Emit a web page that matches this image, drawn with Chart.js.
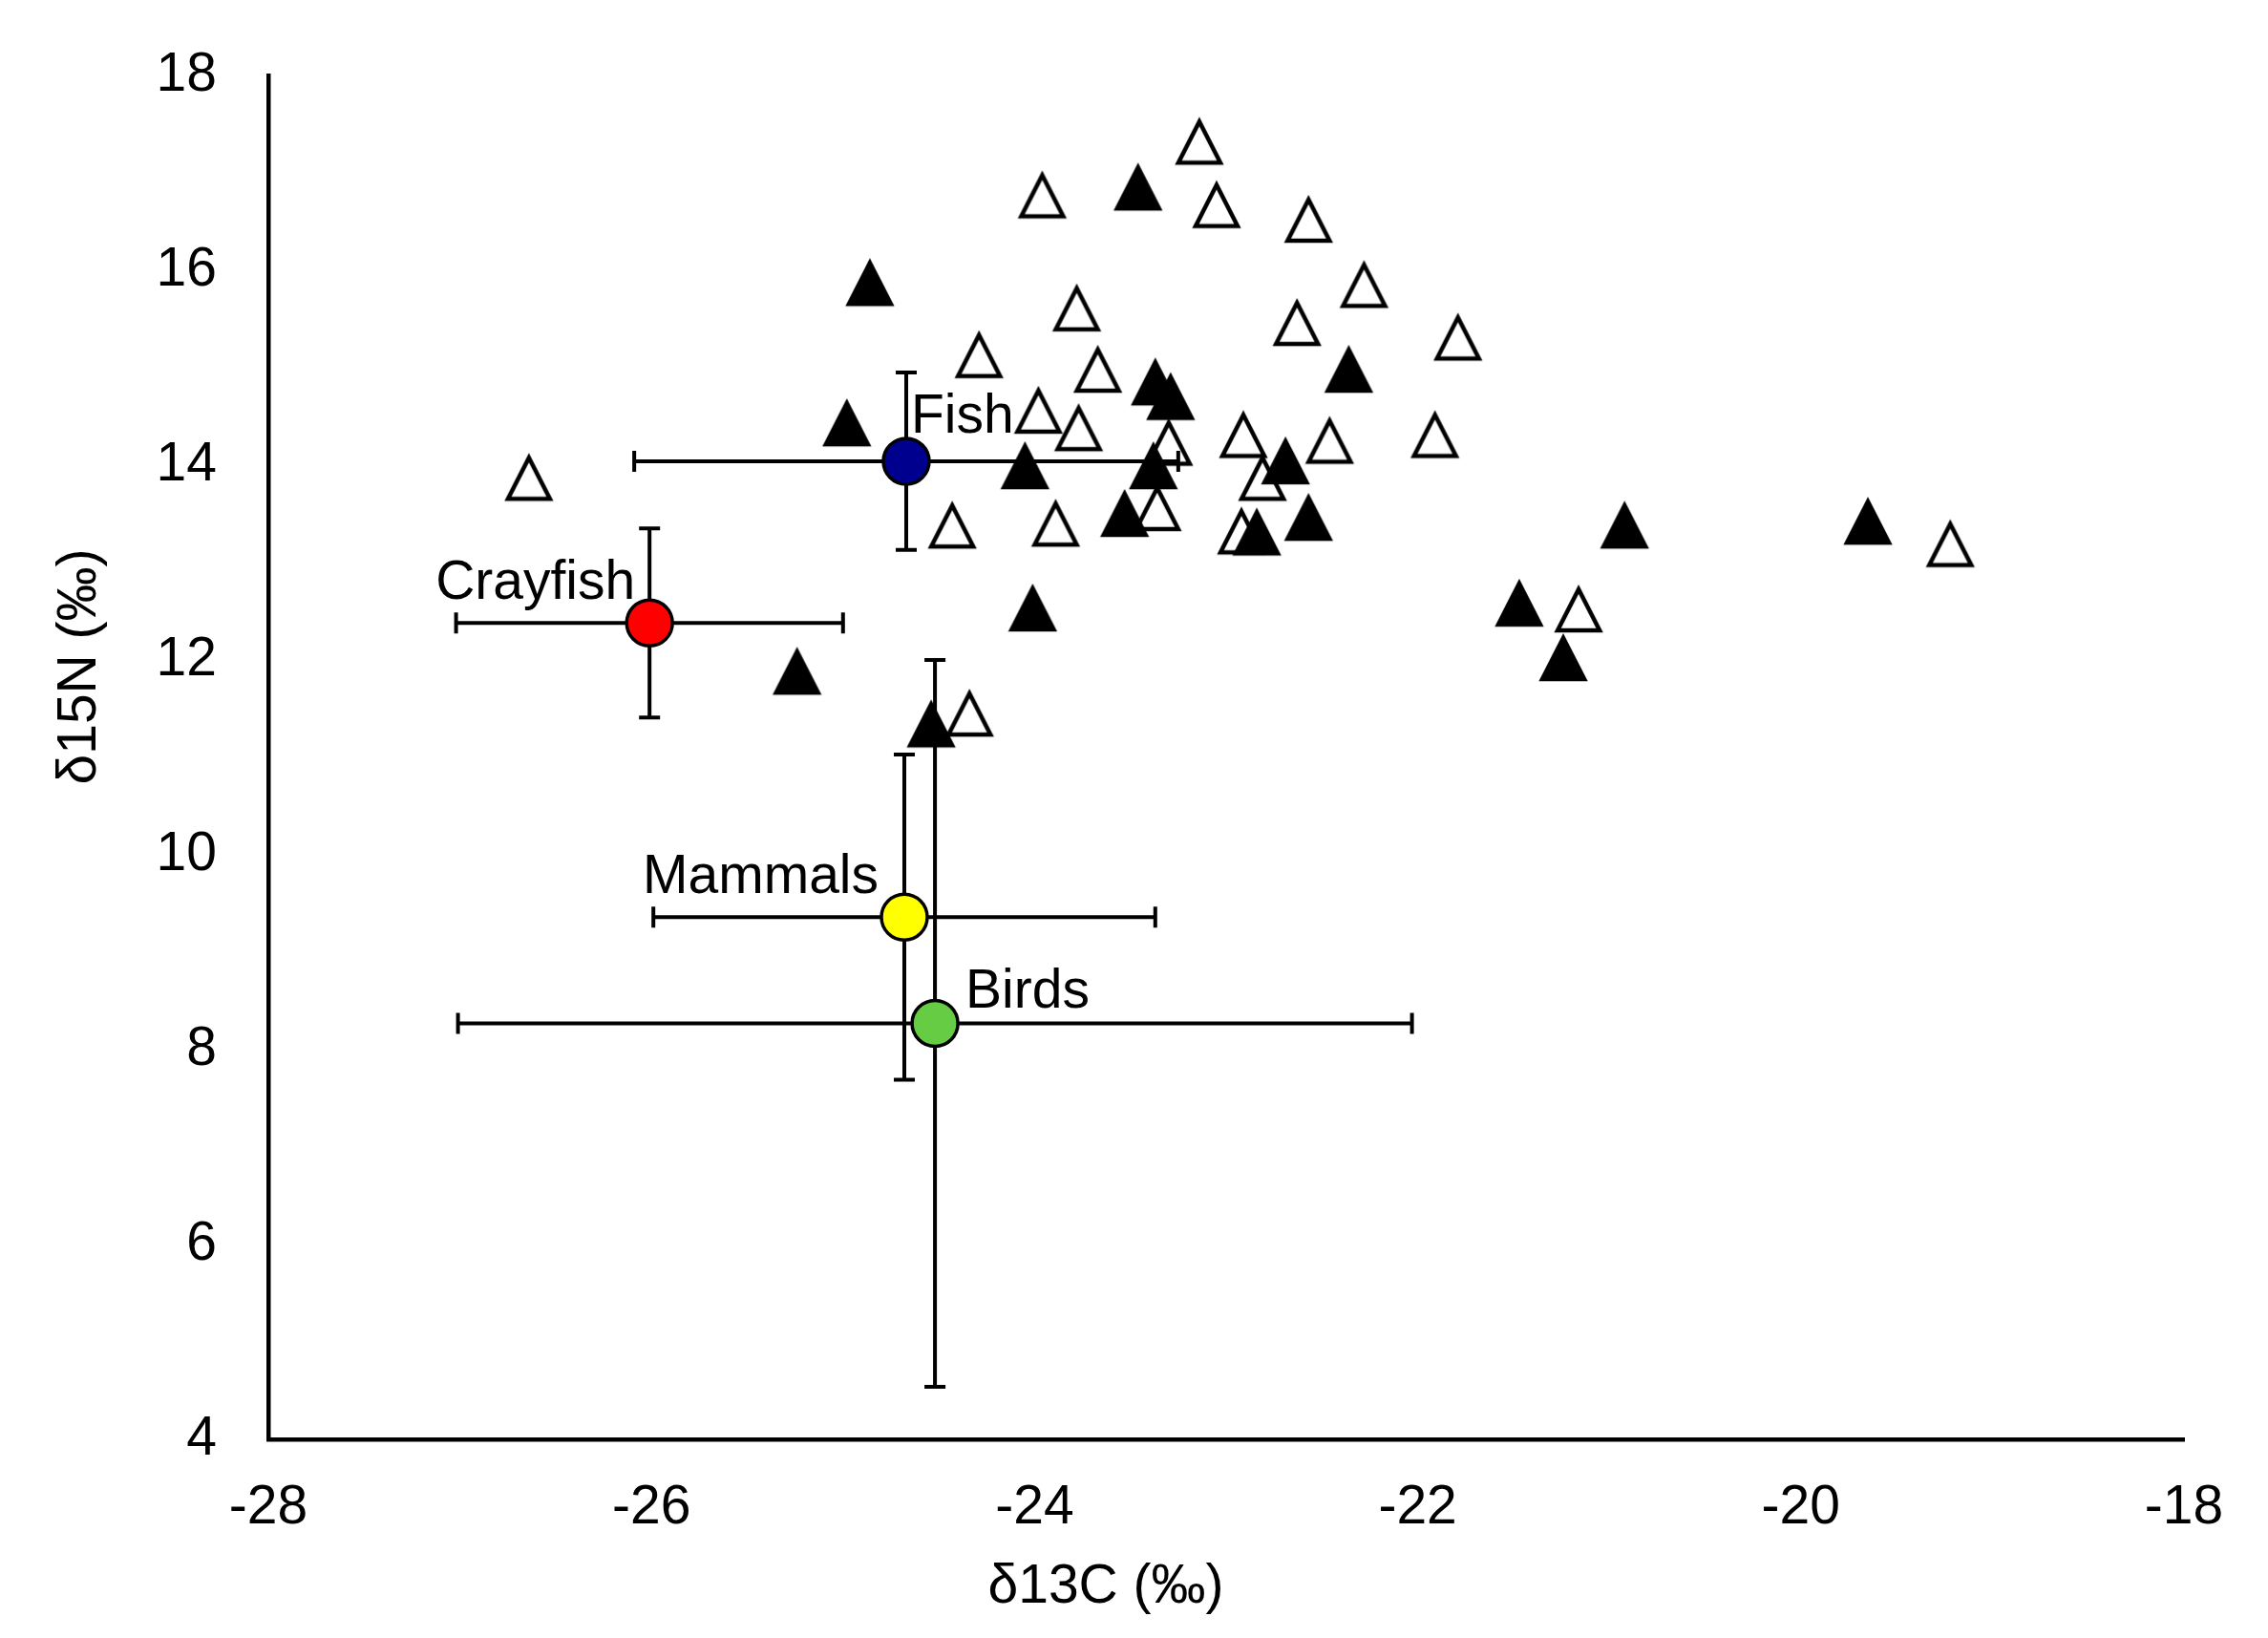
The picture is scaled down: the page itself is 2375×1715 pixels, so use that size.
<!DOCTYPE html>
<html>
<head>
<meta charset="utf-8">
<script src="https://cdn.jsdelivr.net/npm/chart.js@4.4.1/dist/chart.umd.min.js"></script>
<style>
html, body { margin: 0; padding: 0; background: #fff; }
</style>
</head>
<body>
<canvas id="isoChart" width="2375" height="1715"></canvas>
<script>
// open triangles (delta13C, delta15N)
const openC = [-26.64, -23.96, -23.14, -23.05, -22.57, -22.28, -23.78, -22.63, -21.79, -24.29,
               -23.67, -23.98, -23.77, -23.30, -22.91, -22.46, -21.91, -22.81, -23.36, -24.43,
               -23.89, -22.92, -19.22, -21.16, -24.34];
const openN = [13.87, 16.77, 17.32, 16.67, 16.52, 15.85, 15.61, 15.46, 15.31, 15.13,
               14.98, 14.56, 14.38, 14.23, 14.31, 14.25, 14.31, 13.87, 13.56, 13.38,
               13.40, 13.32, 13.19, 12.52, 11.45];

// filled triangles
const filledC = [-23.46, -24.86, -22.36, -23.37, -23.29, -24.98, -24.05, -23.38, -22.69, -23.53,
                 -22.84, -22.57, -20.92, -19.65, -24.01, -21.47, -21.24, -25.24, -24.54];
const filledN = [16.85, 15.87, 14.98, 14.85, 14.70, 14.43, 13.99, 13.99, 14.04, 13.50,
                 13.31, 13.46, 13.38, 13.42, 12.53, 12.58, 12.02, 11.88, 11.34];

// group means with error bars
const meanNames = ['Fish', 'Crayfish', 'Mammals', 'Birds'];
const meanC = [-24.67, -26.01, -24.68, -24.52];
const meanN = [14.04, 12.38, 9.36, 8.27];
const meanCErr = [1.42, 1.01, 1.31, 2.49];
const meanNErr = [0.91, 0.97, 1.67, 3.73];
const meanColors = ['#00008f', '#ff0000', '#ffff00', '#66cc44'];

const xTicks = [-28, -26, -24, -22, -20, -18];
const yTicks = [4, 6, 8, 10, 12, 14, 16, 18];
const xTitle = 'δ13C (‰)';
const yTitle = 'δ15N (‰)';

const FONT = '"Liberation Sans", Arial, sans-serif';

function triangleCanvas(filled) {
    const c = document.createElement('canvas');
    c.width = 54;
    c.height = 54;
    const g = c.getContext('2d');
    g.beginPath();
    g.moveTo(27, 6);
    g.lineTo(49, 49);
    g.lineTo(5, 49);
    g.closePath();
    g.fillStyle = filled ? '#000' : '#fff';
    g.fill();
    g.lineWidth = 4.5;
    g.strokeStyle = '#000';
    g.stroke();
    return c;
}
const openTri = triangleCanvas(false);
const filledTri = triangleCanvas(true);

const toPoints = (xs, ys) => xs.map((x, i) => ({ x: x, y: ys[i] }));

// label placement relative to each mean point
const labelPos = {
    Fish: { dx: 5, dy: -30, align: 'left' },
    Crayfish: { dx: -15, dy: -25, align: 'right' },
    Mammals: { dx: -27, dy: -25, align: 'right' },
    Birds: { dx: 32, dy: -16, align: 'left' }
};

const errorBars = {
    id: 'errorBars',
    beforeDatasetDraw(chart, args) {
        if (args.index !== 2) return;
        const ctx = chart.ctx;
        const xs = chart.scales.x;
        const ys = chart.scales.y;
        const cap = 11;
        ctx.save();
        ctx.strokeStyle = '#000';
        ctx.lineWidth = 4;
        meanC.forEach((c, i) => {
            const px = xs.getPixelForValue(c);
            const py = ys.getPixelForValue(meanN[i]);
            const x0 = xs.getPixelForValue(c - meanCErr[i]);
            const x1 = xs.getPixelForValue(c + meanCErr[i]);
            const y0 = ys.getPixelForValue(meanN[i] + meanNErr[i]);
            const y1 = ys.getPixelForValue(meanN[i] - meanNErr[i]);
            ctx.beginPath();
            ctx.moveTo(x0, py); ctx.lineTo(x1, py);
            ctx.moveTo(x0, py - cap); ctx.lineTo(x0, py + cap);
            ctx.moveTo(x1, py - cap); ctx.lineTo(x1, py + cap);
            ctx.moveTo(px, y0); ctx.lineTo(px, y1);
            ctx.moveTo(px - cap, y0); ctx.lineTo(px + cap, y0);
            ctx.moveTo(px - cap, y1); ctx.lineTo(px + cap, y1);
            ctx.stroke();
        });
        ctx.restore();
    }
};

const textLayer = {
    id: 'textLayer',
    afterDatasetsDraw(chart) {
        const ctx = chart.ctx;
        const xs = chart.scales.x;
        const ys = chart.scales.y;
        ctx.save();
        ctx.font = '57px ' + FONT;
        ctx.fillStyle = '#000';
        ctx.textBaseline = 'alphabetic';
        meanNames.forEach((name, i) => {
            const p = labelPos[name];
            ctx.textAlign = p.align;
            ctx.fillText(name, xs.getPixelForValue(meanC[i]) + p.dx, ys.getPixelForValue(meanN[i]) + p.dy);
        });
        // axis titles, offset like the original figure
        ctx.textAlign = 'center';
        ctx.fillText(xTitle, 1158, 1678);
        ctx.translate(100, 698);
        ctx.rotate(-Math.PI / 2);
        ctx.fillText(yTitle, 0, 0);
        ctx.restore();
    }
};

const ctx = document.getElementById('isoChart').getContext('2d');
const isoChart = new Chart(ctx, {
    type: 'scatter',
    data: {
        datasets: [{
            label: 'open',
            data: toPoints(openC, openN),
            pointStyle: openTri,
            pointRadius: 24,
            order: 3
        }, {
            label: 'filled',
            data: toPoints(filledC, filledN),
            pointStyle: filledTri,
            pointRadius: 24,
            order: 2
        }, {
            label: 'means',
            data: toPoints(meanC, meanN),
            pointStyle: 'circle',
            pointRadius: 24,
            backgroundColor: meanColors,
            borderColor: '#000',
            borderWidth: 3.5,
            order: 1
        }]
    },
    options: {
        responsive: false,
        devicePixelRatio: 1,
        animation: false,
        layout: { padding: { left: 0, right: 88, top: 79, bottom: 0 } },
        plugins: {
            legend: { display: false },
            tooltip: { enabled: false }
        },
        scales: {
            x: {
                type: 'linear',
                min: -28,
                max: -18,
                afterBuildTicks: scale => { scale.ticks = xTicks.map(v => ({ value: v })); },
                afterFit: scale => { scale.height = 208; },
                grid: { display: false, drawTicks: false },
                border: { color: '#000', width: 4.5 },
                ticks: { color: '#000', padding: 38, font: { size: 57, family: FONT } }
            },
            y: {
                type: 'linear',
                min: 4,
                max: 18,
                afterBuildTicks: scale => { scale.ticks = yTicks.map(v => ({ value: v })); },
                afterFit: scale => {
                    scale.width = 281;
                    scale.paddingTop = 0;
                    scale.paddingBottom = 0;
                },
                grid: { display: false, drawTicks: false },
                border: { color: '#000', width: 4.5 },
                ticks: { color: '#000', padding: 54, font: { size: 57, family: FONT } }
            }
        }
    },
    plugins: [errorBars, textLayer]
});
</script>
</body>
</html>
